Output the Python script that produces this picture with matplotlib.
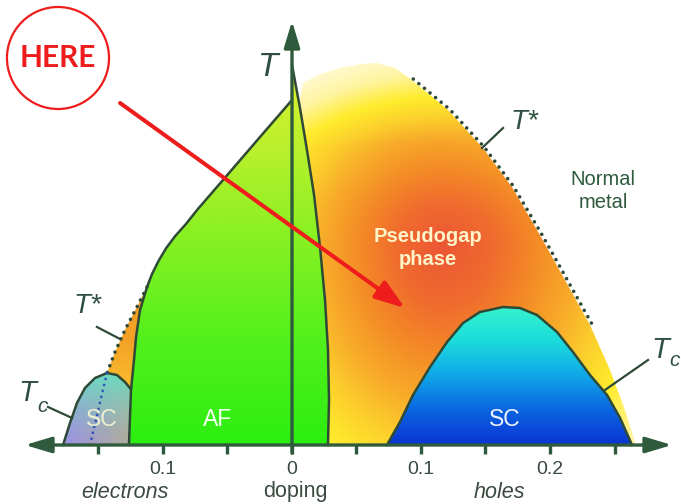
import numpy as np
import matplotlib
matplotlib.use('Agg')
import matplotlib.pyplot as plt
from matplotlib.patches import Polygon, Ellipse
from matplotlib.colors import LinearSegmentedColormap

plt.rcParams['font.family'] = ['Liberation Sans', 'DejaVu Sans']

# ---- phase boundaries (doping, temperature in arbitrary units) ----
# superconducting dome, hole side
hole_sc_x = [0.0736, 0.0837, 0.0938, 0.1070, 0.1202, 0.1326, 0.1457, 0.1636, 0.1767,
             0.1899, 0.2054, 0.2178, 0.2310, 0.2442, 0.2543, 0.2636]
hole_sc_t = [0, 23, 50, 78, 103, 122, 133, 138, 137, 130, 113, 93, 70, 50, 27, 0]

# pseudogap region (area under T*), hole side
pg_x = [0.006, 0.006, 0.0085, 0.0217, 0.0372, 0.0527, 0.0659, 0.0798, 0.093, 0.121, 0.148,
        0.1705, 0.1922, 0.2116, 0.231, 0.2465, 0.2581, 0.2667]
pg_t = [0, 345, 362, 371, 377, 381, 382, 377, 365, 335, 297, 258, 210, 165, 120, 75, 35, 0]

# T* crossover line (dotted), hole side
tstar_h_x = [0.094, 0.122, 0.149, 0.1715, 0.1935, 0.213, 0.2325]
tstar_h_t = [366, 336, 298, 259, 211, 166, 121]

# antiferromagnet, left boundary (electron side) from bottom to top
af_x = [-0.1264, -0.1248, -0.1225, -0.1209, -0.1178, -0.1124, -0.1085, -0.1035, -0.0975,
        -0.0905, -0.0822, -0.0736, -0.0535, -0.0248, 0.0]
af_t = [0, 55, 85, 108, 135, 158, 171, 184, 197, 209, 221, 235, 265, 308, 345]

# antiferromagnet, thin sliver on the hole side (top to bottom)
sliver_x = [0.0, 0.0062, 0.0116, 0.0171, 0.0217, 0.0256, 0.0279, 0.0287, 0.0279]
sliver_t = [380, 337, 295, 250, 198, 145, 95, 45, 0]

# superconducting dome, electron side
e_sc_x = [-0.1775, -0.1721, -0.1667, -0.1605, -0.1527, -0.1434, -0.1357, -0.1295, -0.1250]
e_sc_t = [0, 22, 42, 57, 67, 72, 70, 63, 56]

# T* line, electron side (outside and inside the dome)
tstar_e_x = [-0.1124, -0.1194, -0.1295, -0.1372, -0.1434]
tstar_e_t = [158, 140, 115, 93, 72]
tstar_ein_x = [-0.1434, -0.1475, -0.152, -0.1566]
tstar_ein_t = [72, 50, 25, 0]

# axis ticks and labels
tick_pos = [-0.15, -0.1, -0.05, 0, 0.05, 0.1, 0.15, 0.2, 0.25]
label_pos = [-0.1, 0, 0.1, 0.2]
label_txt = ['0.1', '0', '0.1', '0.2']

dark = '#2e4a36'
txtc = '#3a4a40'

fig = plt.figure(figsize=(6.81, 5.04), dpi=100)
ax = fig.add_axes([0, 0, 1, 1])
ax.set_axis_off()


def clip_image(xs, ys, data, extent, cmap, vmin, vmax, z):
    patch = Polygon(np.column_stack([xs, ys]), closed=True, facecolor='none',
                    edgecolor='none', transform=ax.transData)
    ax.add_patch(patch)
    im = ax.imshow(data, extent=extent, origin='lower', aspect='auto', cmap=cmap,
                   vmin=vmin, vmax=vmax, interpolation='bilinear', zorder=z)
    im.set_clip_path(patch)
    return im


# pseudogap: radial orange gradient, paler towards the top
pg_cmap = LinearSegmentedColormap.from_list('pg', [
    (0.0, '#ec5634'), (0.17, '#f06c2e'), (0.31, '#f48c26'), (0.45, '#f8ae2a'),
    (0.56, '#fcd02c'), (0.68, '#ffec2c'), (0.82, '#fff4a0'), (1.0, '#fffbe0')])
gx, gt = np.meshgrid(np.linspace(0, 0.27, 300), np.linspace(0, 385, 300))
px = gx * 1290
dx = np.where(px < 150, (px - 150) / 150, (px - 150) / 170)
dy = np.where(gt > 200, (gt - 200) / 140, (gt - 200) / 200)
rr = np.sqrt(dx ** 2 + dy ** 2) + np.clip((gt - 300) / 90, 0, 1) * 0.3
clip_image(pg_x, pg_t, rr, (0, 0.27, 0, 385), pg_cmap, 0, 1.8, 1)

# electron side pseudogap sliver (orange)
mask = (np.array(af_t) > 56) & (np.array(af_t) < 158)
epg_x = tstar_e_x + e_sc_x[6:] + list(np.array(af_x)[mask])
epg_t = tstar_e_t + e_sc_t[6:] + list(np.array(af_t)[mask])
epg_cmap = LinearSegmentedColormap.from_list('epg', ['#f9c030', '#f4a226', '#f09a24'])
clip_image(epg_x, epg_t, np.linspace(50, 160, 50).reshape(-1, 1), (-0.145, -0.11, 50, 160),
           epg_cmap, 50, 160, 1)

# hole SC dome
sc_cmap = LinearSegmentedColormap.from_list('sc', [
    (0.0, '#0a34d4'), (0.25, '#0a66e0'), (0.5, '#10a8e8'), (0.75, '#1cdcdc'), (1.0, '#36f2cc')])
clip_image(hole_sc_x, hole_sc_t, np.linspace(0, 140, 100).reshape(-1, 1), (0.07, 0.27, 0, 140),
           sc_cmap, 0, 140, 2)

# electron SC dome: lavender -> grey across, cyan towards the top
ex, et = np.meshgrid(np.linspace(-0.178, -0.124, 80), np.linspace(0, 75, 80))
u = np.clip((ex + 0.178) / 0.054, 0, 1)
v = np.clip(et / 72, 0, 1) ** 1.4
lav = np.array([0.60, 0.57, 0.90])
gry = np.array([0.70, 0.68, 0.60])
cya = np.array([0.42, 0.86, 0.76])
base = lav * (1 - u[..., None]) + gry * u[..., None]
rgb = base * (1 - v[..., None]) + cya * v[..., None]
esc_poly_x = e_sc_x + [af_x[0]]
esc_poly_t = e_sc_t + [af_t[0]]
clip_image(esc_poly_x, esc_poly_t, rgb, (-0.178, -0.124, 0, 75), None, None, None, 2)

# AF regions (green)
af_cmap = LinearSegmentedColormap.from_list('af', [
    (0.0, '#2cee10'), (0.27, '#52f01c'), (0.55, '#8af022'), (0.75, '#b4f02c'),
    (0.9, '#d0f02c'), (1.0, '#e8f030')])
afg = np.linspace(0, 385, 200).reshape(-1, 1)
clip_image(af_x + [0.0], af_t + [0], afg, (-0.13, 0.03, 0, 385), af_cmap, 0, 385, 2)
clip_image(sliver_x + [0.0], sliver_t + [0], afg, (-0.13, 0.03, 0, 385), af_cmap, 0, 385, 2)

# outlines
lw_o = 1.8
ax.plot(af_x, af_t, color=dark, lw=lw_o, zorder=3, solid_joinstyle='round')
ax.plot(sliver_x, sliver_t, color=dark, lw=lw_o, zorder=3, solid_joinstyle='round')
ax.plot(hole_sc_x, hole_sc_t, color=dark, lw=lw_o, zorder=3, solid_joinstyle='round')
ax.plot(e_sc_x, e_sc_t, color=dark, lw=lw_o, zorder=3, solid_joinstyle='round')

# T* dotted lines
dots = dict(lw=2.6, linestyle=(0, (0.01, 2.0)), dash_capstyle='round', zorder=3)
ax.plot(tstar_h_x, tstar_h_t, color=dark, **dots)
ax.plot(tstar_e_x, tstar_e_t, color=dark, **dots)
ax.plot(tstar_ein_x, tstar_ein_t, color='#3054b4', lw=2.0, linestyle=(0, (0.01, 2.2)),
        dash_capstyle='round', zorder=3)

# axes with arrows
axc = '#2f5a3c'
ax.annotate('', xy=(-0.207, 0), xytext=(0.2946, 0),
            arrowprops=dict(arrowstyle='<|-|>,head_length=1.6,head_width=0.48', mutation_scale=10,
                            lw=2.4, color=axc, shrinkA=0, shrinkB=0), zorder=4)
ax.annotate('', xy=(0, 424), xytext=(0, -8),
            arrowprops=dict(arrowstyle='-|>,head_length=1.6,head_width=0.48', mutation_scale=10,
                            lw=2.4, color=axc, shrinkA=0, shrinkB=0), zorder=4)
ax.vlines(tick_pos, -9, 0, color=axc, lw=2.4, zorder=4)

for p, s in zip(label_pos, label_txt):
    ax.text(p, -25, s, ha='center', va='center', fontsize=14, color=txtc)
ax.text(-0.1295, -47, 'electrons', ha='center', va='center', fontsize=15.5, style='italic', color=txtc)
ax.text(0.0023, -47, 'doping', ha='center', va='center', fontsize=15.5, color=txtc)
ax.text(0.1605, -47, 'holes', ha='center', va='center', fontsize=15.5, style='italic', color=txtc)

# labels
lab = '#2f5040'
ax.text(-0.0186, 378, 'T', ha='center', va='center', fontsize=24, style='italic', color=lab)
ax.text(0.1798, 323, 'T*', ha='center', va='center', fontsize=20, style='italic', color=lab)
ax.text(-0.1589, 139, 'T*', ha='center', va='center', fontsize=20, style='italic', color=lab)
ax.text(-0.2054, 52, 'T', ha='center', va='center', fontsize=21, style='italic', color=lab)
ax.text(-0.1930, 39, 'c', ha='center', va='center', fontsize=15, style='italic', color=lab)
ax.text(0.2853, 95, 'T', ha='center', va='center', fontsize=21, style='italic', color=lab)
ax.text(0.2969, 85, 'c', ha='center', va='center', fontsize=15, style='italic', color=lab)
ax.plot([0.1473, 0.1636], [297, 317], color=dark, lw=1.6, zorder=3)
ax.plot([-0.1512, -0.1333], [118, 106], color=dark, lw=1.6, zorder=3)
ax.plot([-0.1891, -0.1705], [38, 27], color=dark, lw=1.6, zorder=3)
ax.plot([0.2760, 0.2426], [85, 55], color=dark, lw=1.6, zorder=3)

ax.text(0.2411, 254, 'Normal\nmetal', ha='center', va='center', fontsize=14.5,
        linespacing=1.3, color='#2e5a3e')
ax.text(0.1054, 197, 'Pseudogap\nphase', ha='center', va='center', fontsize=14.5,
        fontweight='bold', linespacing=1.3, color='#fff3c8', zorder=5)
ax.text(0.1651, 25, 'SC', ha='center', va='center', fontsize=16.5, color='#eef4ff', zorder=5)
ax.text(-0.1473, 25, 'SC', ha='center', va='center', fontsize=16.5, color='#eef0d0', zorder=5)
ax.text(-0.0574, 25, 'AF', ha='center', va='center', fontsize=16.5, color='#f4fff0', zorder=5)

# red "HERE" annotation
red = '#ee1c1c'
ax.add_patch(Ellipse((-0.1814, 387), 0.0791, 102, facecolor='white', edgecolor=red, lw=1.6, zorder=6))
ax.text(-0.1814, 387, 'HERE', ha='center', va='center', fontsize=21.5, fontweight='bold',
        color=red, family=['Lato', 'DejaVu Sans'], zorder=7)
ax.annotate('', xy=(0.0876, 137), xytext=(-0.1333, 342),
            arrowprops=dict(arrowstyle='-|>,head_length=1.3,head_width=0.45', mutation_scale=14,
                            lw=2.9, color=red, shrinkA=0, shrinkB=0), zorder=7)

ax.set_xlim(-292 / 1290, 389 / 1290)
ax.set_ylim(-59, 445)

plt.savefig('out.png', dpi=100, facecolor='white')
